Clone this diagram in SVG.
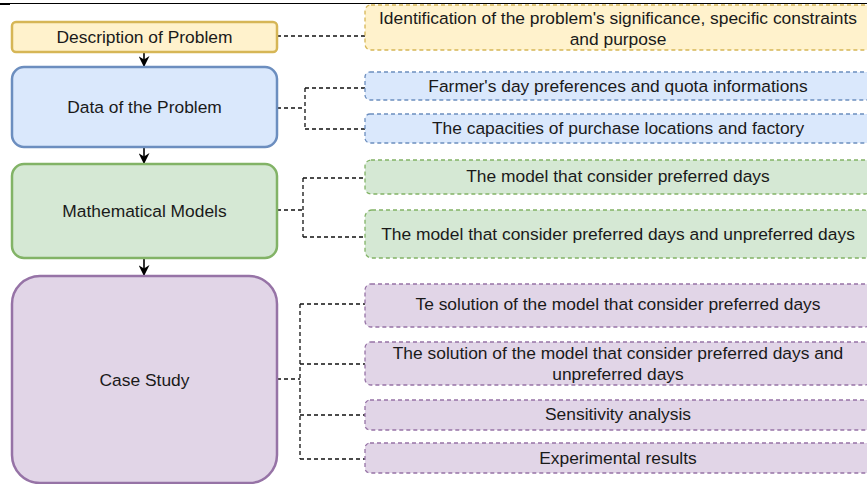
<svg xmlns="http://www.w3.org/2000/svg" width="867" height="484" viewBox="0 0 867 484">
  <style>
    text { font-family: "Liberation Sans", Arial, sans-serif; font-size: 17.4px; fill: #1a1a1a; text-anchor: middle; dominant-baseline: central; }
    .main { stroke-width: 2.5; }
    .detail { stroke-width: 1.3; stroke-dasharray: 4 3; }
    .yellow { fill: #fff2cc; stroke: #d6b656; }
    .blue { fill: #dae8fc; stroke: #6c8ebf; }
    .green { fill: #d5e8d4; stroke: #82b366; }
    .purple { fill: #e1d5e7; stroke: #9673a6; }
    .link { fill: none; stroke: #111; stroke-width: 1.3; stroke-dasharray: 4 3; }
    .flow { fill: none; stroke: #000; stroke-width: 1.6; marker-end: url(#arrow); }
  </style>
  <defs>
    <marker id="arrow" viewBox="0 0 10 10" refX="9" refY="5" markerWidth="11" markerHeight="11" markerUnits="userSpaceOnUse" orient="auto">
      <path d="M0,0 L10,5 L0,10 L3,5 Z" fill="#000"/>
    </marker>
  </defs>

  <rect width="867" height="484" fill="#ffffff"/>
  <!-- top rule -->
  <line x1="0" y1="3.5" x2="867" y2="3.5" stroke="#000" stroke-width="1"/>
  <line x1="0" y1="4" x2="10" y2="4" stroke="#000" stroke-width="2"/>

  <!-- connectors -->
  <g id="connectors">
    <path class="flow" d="M144,52 V66"/>
    <path class="flow" d="M144,148 V163"/>
    <path class="flow" d="M144,259 V275"/>
    <path class="link" d="M277,36 H365"/>
    <path class="link" d="M277,108 H305 M305,88 V129 M305,88 H365 M305,129 H365"/>
    <path class="link" d="M277,210 H303 M303,178 V237 M303,178 H365 M303,237 H365"/>
    <path class="link" d="M277,379 H300 M300,304 V459 M300,304 H365 M300,364 H365 M300,415 H365 M300,459 H365"/>
  </g>

  <!-- process steps -->
  <g id="description">
    <rect class="main yellow" x="12" y="22" width="265" height="30" rx="4"/>
    <text x="144.5" y="37">Description of Problem</text>
  </g>
  <g id="data">
    <rect class="main blue" x="12" y="67" width="265" height="80" rx="12"/>
    <text x="144.5" y="107">Data of the Problem</text>
  </g>
  <g id="models">
    <rect class="main green" x="12" y="164" width="265" height="94" rx="12"/>
    <text x="144.5" y="211">Mathematical Models</text>
  </g>
  <g id="case-study">
    <rect class="main purple" x="12" y="276" width="265" height="207" rx="28"/>
    <text x="144.5" y="380">Case Study</text>
  </g>

  <!-- details -->
  <g id="significance">
    <rect class="detail yellow" x="365" y="5" width="506" height="45" rx="6"/>
    <text x="618" y="18">Identification of the problem's significance, specific constraints</text>
    <text x="618" y="39">and purpose</text>
  </g>
  <g id="preferences">
    <rect class="detail blue" x="365" y="72" width="506" height="28" rx="5"/>
    <text x="618" y="86">Farmer's day preferences and quota informations</text>
  </g>
  <g id="capacities">
    <rect class="detail blue" x="365" y="114" width="506" height="29" rx="5"/>
    <text x="618" y="128">The capacities of purchase locations and factory</text>
  </g>
  <g id="model-preferred">
    <rect class="detail green" x="365" y="160" width="506" height="34" rx="6"/>
    <text x="618" y="176">The model that consider preferred days</text>
  </g>
  <g id="model-both">
    <rect class="detail green" x="365" y="210" width="506" height="48" rx="7"/>
    <text x="618" y="234">The model that consider preferred days and unpreferred days</text>
  </g>
  <g id="solution-preferred">
    <rect class="detail purple" x="365" y="284" width="506" height="43" rx="6"/>
    <text x="618" y="304">Te solution of the model that consider preferred days</text>
  </g>
  <g id="solution-both">
    <rect class="detail purple" x="365" y="342" width="506" height="43" rx="6"/>
    <text x="618" y="353">The solution of the model that consider preferred days and</text>
    <text x="618" y="374">unpreferred days</text>
  </g>
  <g id="sensitivity">
    <rect class="detail purple" x="365" y="400" width="506" height="30" rx="5"/>
    <text x="618" y="414">Sensitivity analysis</text>
  </g>
  <g id="experiments">
    <rect class="detail purple" x="365" y="443" width="506" height="30" rx="5"/>
    <text x="618" y="458">Experimental results</text>
  </g>
</svg>
